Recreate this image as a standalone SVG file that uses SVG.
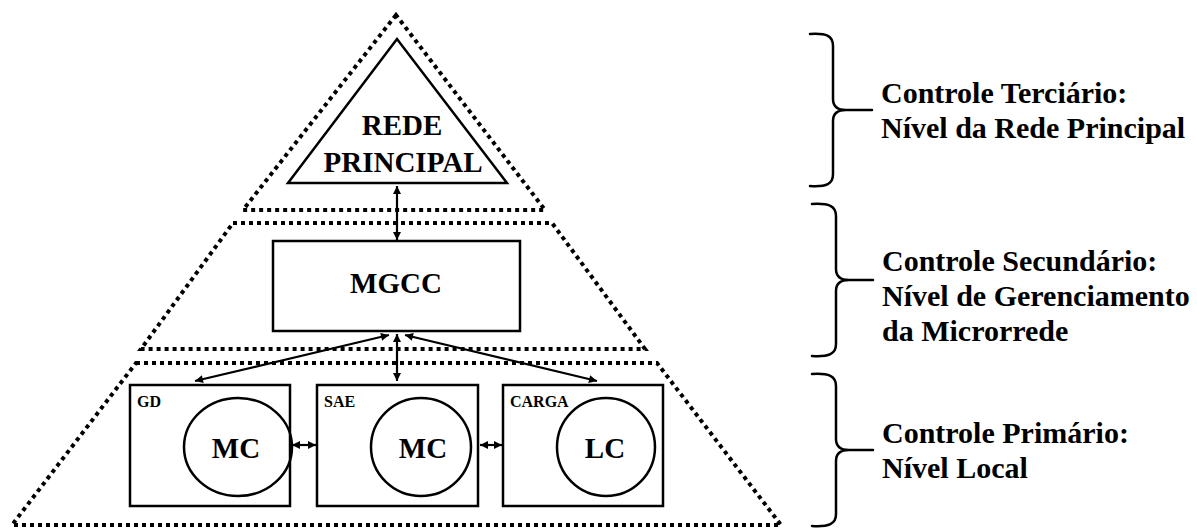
<svg xmlns="http://www.w3.org/2000/svg" width="1197" height="529" viewBox="0 0 1197 529">
<defs>
<style>
.dot{fill:none;stroke:#000;stroke-width:4;stroke-dasharray:4 4;}
.box{fill:none;stroke:#000;stroke-width:2.5;}
.con{fill:none;stroke:#000;stroke-width:2.2;}
.br{fill:none;stroke:#000;stroke-width:2.5;stroke-linecap:round;}
.t{font-family:"Liberation Serif","Times New Roman",serif;font-weight:bold;fill:#000;}
.big{font-size:29px;text-anchor:middle;}
.lab{font-size:16px;}
.side{font-size:30px;}
</style>
<marker id="ah" viewBox="0 0 10 10" refX="10" refY="5" markerWidth="9" markerHeight="8" markerUnits="userSpaceOnUse" orient="auto-start-reverse">
<path d="M0,0 L10,5 L0,10 Z" fill="#000"/>
</marker>
</defs>
<rect width="1197" height="529" fill="#fff"/>
<g id="levels">
<polygon class="dot" points="396,15 243,210 545,210"/>
<polygon class="dot" points="233,223 552,223 645,349 141,349"/>
<polygon class="dot" points="136,363 657,363 781,525 12,525"/>
</g>
<g id="rede">
<polygon class="box" points="397,39 288,183 507,183"/>
<text class="t big" x="402" y="135">REDE</text>
<text class="t big" x="403" y="172">PRINCIPAL</text>
</g>
<g id="mgcc">
<rect class="box" x="273" y="241" width="247" height="90"/>
<text class="t big" x="396" y="293">MGCC</text>
</g>
<g id="gd">
<rect class="box" x="130" y="385" width="160" height="121"/>
<text class="t lab" x="137" y="407">GD</text>
<ellipse class="box" cx="238" cy="447" rx="54" ry="49"/>
<text class="t big" x="236" y="458">MC</text>
</g>
<g id="sae">
<rect class="box" x="317" y="385" width="161" height="121"/>
<text class="t lab" x="324" y="407">SAE</text>
<ellipse class="box" cx="421" cy="447" rx="50" ry="49"/>
<text class="t big" x="423" y="458">MC</text>
</g>
<g id="carga">
<rect class="box" x="503" y="385" width="160" height="121"/>
<text class="t lab" x="510" y="407">CARGA</text>
<ellipse class="box" cx="606" cy="447" rx="49" ry="49"/>
<text class="t big" x="605" y="458">LC</text>
</g>
<g id="connectors">
<line class="con" x1="397" y1="186" x2="397" y2="240" marker-start="url(#ah)" marker-end="url(#ah)"/>
<line class="con" x1="397" y1="334" x2="397" y2="381" marker-start="url(#ah)" marker-end="url(#ah)"/>
<line class="con" x1="389" y1="335" x2="195" y2="381" marker-start="url(#ah)" marker-end="url(#ah)"/>
<line class="con" x1="405" y1="335" x2="597" y2="381" marker-start="url(#ah)" marker-end="url(#ah)"/>
<line class="con" x1="292" y1="445" x2="316" y2="445" marker-start="url(#ah)" marker-end="url(#ah)"/>
<line class="con" x1="480" y1="445" x2="502" y2="445" marker-start="url(#ah)" marker-end="url(#ah)"/>
</g>
<g id="terciario">
<path class="br" d="M810,34 C827,33 833,36 833,46 L833,99 C833,106 837,110 846,110 L872,110 M846,110 C837,110 833,114 833,121 L833,174 C833,184 827,187 810,186"/>
<text class="t side" x="881" y="103">Controle Terciário:</text>
<text class="t side" x="881" y="138">Nível da Rede Principal</text>
</g>
<g id="secundario">
<path class="br" d="M812,204 C829,203 836,206 836,216 L836,269 C836,276 840,280 849,280 L873,280 M849,280 C840,280 836,284 836,291 L836,344 C836,354 829,357 812,356"/>
<text class="t side" x="882" y="271">Controle Secundário:</text>
<text class="t side" x="882" y="306">Nível de Gerenciamento</text>
<text class="t side" x="882" y="341">da Microrrede</text>
</g>
<g id="primario">
<path class="br" d="M812,374 C829,373 836,376 836,386 L836,439 C836,446 840,450 849,450 L873,450 M849,450 C840,450 836,454 836,461 L836,514 C836,524 829,527 812,526"/>
<text class="t side" x="882" y="443">Controle Primário:</text>
<text class="t side" x="882" y="478">Nível Local</text>
</g>
</svg>
